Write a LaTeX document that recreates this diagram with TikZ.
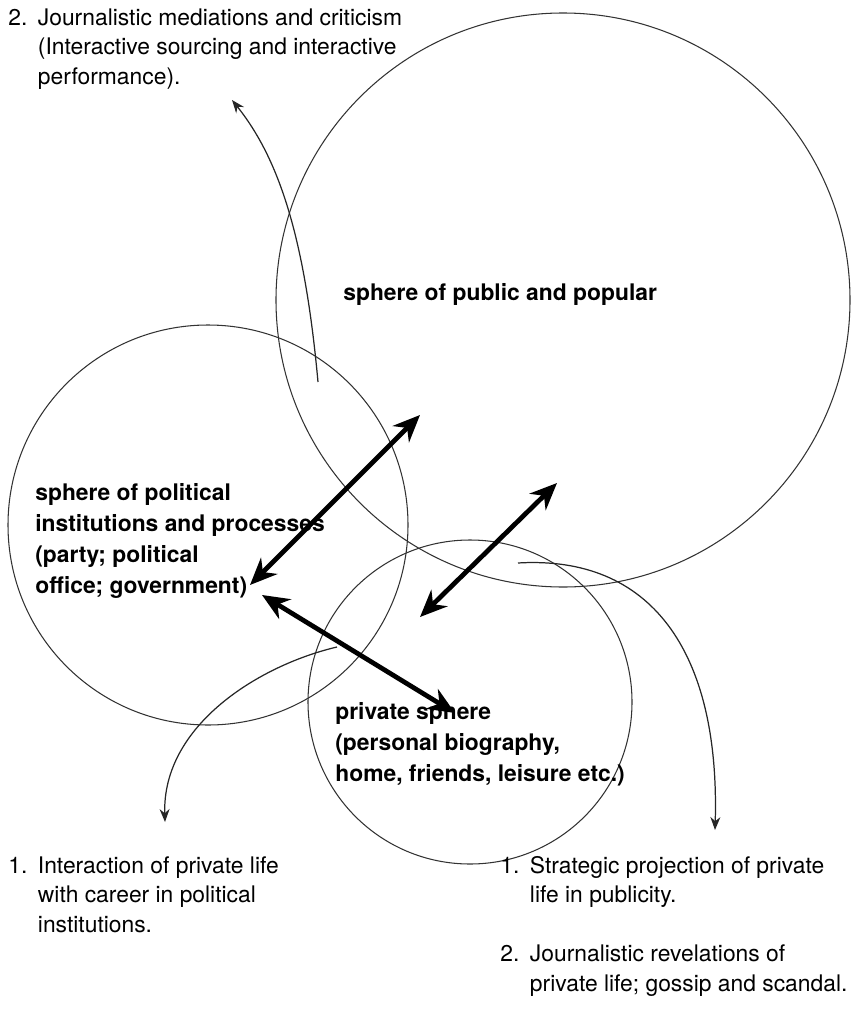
\documentclass[tikz,border=0pt]{standalone}
\usepackage{fontspec}
\setmainfont{TeX Gyre Heros}
\usetikzlibrary{arrows.meta}
\tikzset{ring/.style = {draw=black!80, line width=0.6pt}}
\tikzset{bigarrow/.style = {{Stealth[length=5.4mm,width=4.6mm]}-{Stealth[length=5.4mm,width=4.6mm]}, line width=2.7pt}}
\tikzset{thinarrow/.style = {-{Stealth[length=2.6mm,width=2mm]}, line width=0.7pt, black!85}}
\tikzset{lbl/.style = {anchor=north west, inner sep=0, align=left, font=\fontsize{13}{17.7}\selectfont\bfseries}}
\tikzset{note/.style = {anchor=north west, inner sep=0, align=left, font=\fontsize{13}{16.6}\selectfont}}

\begin{document}
\begin{tikzpicture}[x=0.02cm, y=-0.02cm]
        \useasboundingbox (0,0) rectangle (851,1024);
        % the three spheres
        \coordinate (public) at (563,300);
        \coordinate (political) at (208,525);
        \coordinate (private) at (470,702);
        \draw [ring] (public) circle [radius=287];
        \draw [ring] (political) circle [radius=200];
        \draw [ring] (private) circle [radius=162];
        % labels inside the spheres
        \node [lbl] (publbl) at (343,283) {sphere of public and popular};
        \node [lbl] (pollbl) at (35,483) {sphere of political\\institutions and processes\\(party; political\\office; government)};
        \node [lbl] (prilbl) at (335,702) {private sphere\\(personal biography,\\home, friends, leisure etc.)};
        % two-way links
        \coordinate (a1) at (250,585);
        \coordinate (b1) at (420,415);
        \coordinate (a2) at (420,617);
        \coordinate (b2) at (557,483);
        \coordinate (a3) at (262,595);
        \coordinate (b3) at (455,713);
        \draw [bigarrow] (a1) -- (b1);
        \draw [bigarrow] (a2) -- (b2);
        \draw [bigarrow] (a3) -- (b3);
        % mediations leading out
        \coordinate (up0) at (318,382);
        \coordinate (up1) at (232,100);
        \coordinate (dl0) at (337,647);
        \coordinate (dl1) at (165,822);
        \coordinate (dr0) at (518,563);
        \coordinate (dr1) at (715,830);
        \draw [thinarrow] (up0) .. controls (305,240) and (280,160) .. (up1);
        \draw [thinarrow] (dl0) .. controls (260,665) and (162,725) .. (dl1);
        \draw [thinarrow] (dr0) .. controls (650,555) and (720,650) .. (dr1);
        % notes
        \node [note] (topnote) at (8,5) {\begin{tabular}{@{}l@{\hspace{6pt}}l@{}}2. & Journalistic mediations and criticism\\ & (Interactive sourcing and interactive\\ & performance).\end{tabular}};
        \node [note] (leftnote) at (8,853) {\begin{tabular}{@{}l@{\hspace{6pt}}l@{}}1. & Interaction of private life\\ & with career in political\\ & institutions.\end{tabular}};
        \node [note] (rightnote) at (500,853) {\begin{tabular}{@{}l@{\hspace{6pt}}l@{}}1. & Strategic projection of private\\ & life in publicity.\\[17pt] 2. & Journalistic revelations of\\ & private life; gossip and scandal.\end{tabular}};
\end{tikzpicture}
\end{document}
